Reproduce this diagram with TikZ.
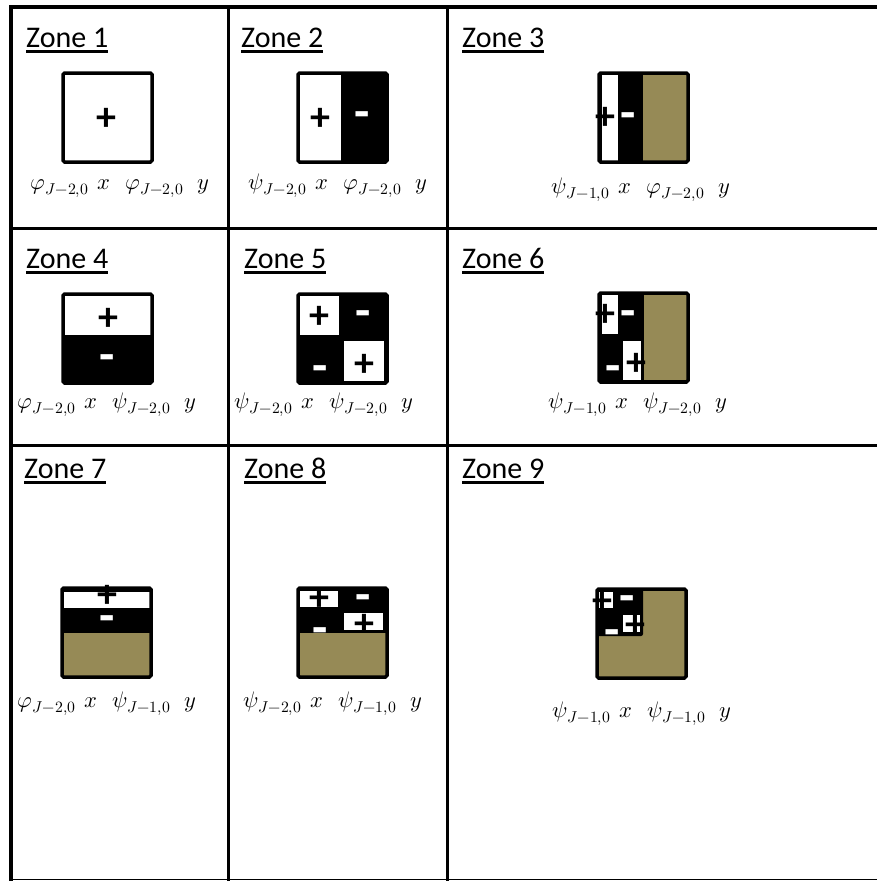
\documentclass[tikz,border=0pt]{standalone}
\usepackage{fontspec}
\usepackage{unicode-math}
\setmainfont{Carlito}
\setmathfont{Latin Modern Math}
\definecolor{kaki}{RGB}{150,138,86}
\newcommand{\souligne}[1]{\setbox0=\hbox{#1}\rlap{\rule[-5.5pt]{\wd0}{2.6pt}}\box0}
\tikzset{
  zonetitle/.style={anchor=base west, inner sep=0pt, font=\fontsize{30}{34}\selectfont},
  formule/.style={anchor=base, inner sep=0pt, font=\fontsize{22.5}{26}\selectfont},
  cadre/.style={draw=black, line width=3.5pt, rounded corners=1.5pt},
  grille/.style={line width=3.6pt, line cap=rect},
  signplus/.style={anchor=base, inner sep=0pt, text=black, yshift=-13pt,
                   font=\fontsize{40}{40}\selectfont\bfseries},
  signmoins/.style={anchor=base, inner sep=0pt, text=white, yshift=-17pt,
                    font=\fontsize{50}{50}\selectfont\bfseries},
}
\begin{document}
\begin{tikzpicture}[x=1pt, y=-1pt]
  \useasboundingbox (0,0) rectangle (877,881);
  \draw[grille] (11,7) -- (877,7);
  \draw[grille] (11,228.5) -- (877,228.5);
  \draw[grille] (11,445.5) -- (877,445.5);
  \draw[line width=1.5pt] (11,879.5) -- (877,879.5);
  \draw[grille] (11,7) -- (11,880);
  \draw[grille] (228.5,7) -- (228.5,880);
  \draw[grille] (447.5,7) -- (447.5,880);

  \node[zonetitle] (t1) at (26,47) {\souligne{Zone 1}};
  \node[zonetitle] (t2) at (241,47) {\souligne{Zone 2}};
  \node[zonetitle] (t3) at (462,47) {\souligne{Zone 3}};
  \node[zonetitle] (t4) at (26,268) {\souligne{Zone 4}};
  \node[zonetitle] (t5) at (244,268) {\souligne{Zone 5}};
  \node[zonetitle] (t6) at (462,268) {\souligne{Zone 6}};
  \node[zonetitle] (t7) at (24,478) {\souligne{Zone 7}};
  \node[zonetitle] (t8) at (244,478) {\souligne{Zone 8}};
  \node[zonetitle] (t9) at (462,478) {\souligne{Zone 9}};

  \begin{scope}[shift={(63,73)}]
    \fill[white] (0,0) rectangle (89,89);
    \draw[cadre] (0,0) rectangle (89,89);
  \end{scope}
  \begin{scope}[shift={(298,73)}]
    \fill[black] (0,0) rectangle (89,89);
    \fill[white] (0,0) rectangle (43,89);
    \draw[cadre] (0,0) rectangle (89,89);
  \end{scope}
  \begin{scope}[shift={(599,73)}]
    \fill[black] (0,0) rectangle (89,89);
    \fill[white] (2.5,0) rectangle (19,89);
    \fill[kaki] (44,0) rectangle (87.5,89);
    \draw[cadre] (0,0) rectangle (89,89);
  \end{scope}
  \begin{scope}[shift={(63,294)}]
    \fill[black] (0,0) rectangle (89,89);
    \fill[white] (0,0) rectangle (89,41);
    \draw[cadre] (0,0) rectangle (89,89);
  \end{scope}
  \begin{scope}[shift={(298,294)}]
    \fill[black] (0,0) rectangle (89,89);
    \fill[white] (0,0) rectangle (41,41);
    \fill[white] (46,47) rectangle (86,87);
    \draw[cadre] (0,0) rectangle (89,89);
  \end{scope}
  \begin{scope}[shift={(599,293)}]
    \fill[black] (0,0) rectangle (89,89);
    \fill[white] (3,2) rectangle (19,41);
    \fill[white] (24,48) rectangle (42,87);
    \fill[kaki] (45,2) rectangle (87.5,87);
    \draw[cadre] (0,0) rectangle (89,89);
  \end{scope}
  \begin{scope}[shift={(62,588)}]
    \fill[black] (0,0) rectangle (89,89);
    \fill[white] (1.5,3.5) rectangle (87.5,20);
    \fill[kaki] (1.5,45) rectangle (87.5,87.5);
    \draw[cadre] (0,0) rectangle (89,89);
  \end{scope}
  \begin{scope}[shift={(298,588)}]
    \fill[black] (0,0) rectangle (89,89);
    \fill[white] (2,3) rectangle (40,19);
    \fill[white] (46,25) rectangle (85,42);
    \fill[kaki] (1.5,45) rectangle (87.5,87.5);
    \draw[cadre] (0,0) rectangle (89,89);
  \end{scope}
  \begin{scope}[shift={(597,589)}]
    \fill[kaki] (0,0) rectangle (89,89);
    \fill[black, rounded corners=2pt] (0,0) rectangle (46,47);
    \fill[white] (2,3) rectangle (16,19);
    \fill[white] (26,26) rectangle (43,43);
    \draw[cadre] (0,0) rectangle (89,89);
  \end{scope}

  \node[signplus] (s1a) at (106.5,117.5) {+};
  \node[signplus] (s2a) at (320,117.5) {+};
  \node[signmoins] (s2b) at (362,111.5) {-};
  \node[signplus] (s3a) at (605,116) {+};
  \node[signmoins] (s3b) at (628,112) {-};
  \node[signplus] (s4a) at (108,317) {+};
  \node[signmoins] (s4b) at (107.5,354.5) {-};
  \node[signplus] (s5a) at (319,315) {+};
  \node[signmoins] (s5b) at (363,310.5) {-};
  \node[signmoins] (s5c) at (320,365.5) {-};
  \node[signplus] (s5d) at (364,363.5) {+};
  \node[signplus] (s6a) at (605.5,313.5) {+};
  \node[signmoins] (s6b) at (628.5,310) {-};
  \node[signmoins] (s6c) at (613.5,365.5) {-};
  \node[signplus] (s6d) at (636.5,362) {+};
  \node[signplus] (s7a) at (107,594) {+};
  \node[signmoins] (s7b) at (107.5,615) {-};
  \node[signplus] (s8a) at (319,597) {+};
  \node[signmoins] (s8b) at (363.5,594.5) {-};
  \node[signmoins] (s8c) at (320,627.5) {-};
  \node[signplus] (s8d) at (364,623) {+};
  \node[signplus] (s9a) at (602.5,600) {+};
  \node[signmoins] (s9b) at (627.5,595) {-};
  \node[signmoins] (s9c) at (612.5,629.5) {-};
  \node[signplus] (s9d) at (635,624) {+};

  \node[formule] (f1) at (120,189) {$\varphi_{J-2,0}\hspace{9pt}x\hspace{15pt}\varphi_{J-2,0}\hspace{14pt}y$};
  \node[formule] (f2) at (338,189) {$\psi_{J-2,0}\hspace{9pt}x\hspace{15pt}\varphi_{J-2,0}\hspace{14pt}y$};
  \node[formule] (f3) at (641,193) {$\psi_{J-1,0}\hspace{9pt}x\hspace{15pt}\varphi_{J-2,0}\hspace{14pt}y$};
  \node[formule] (f4) at (107,408) {$\varphi_{J-2,0}\hspace{9pt}x\hspace{15pt}\psi_{J-2,0}\hspace{14pt}y$};
  \node[formule] (f5) at (324,408) {$\psi_{J-2,0}\hspace{9pt}x\hspace{15pt}\psi_{J-2,0}\hspace{14pt}y$};
  \node[formule] (f6) at (638,408) {$\psi_{J-1,0}\hspace{9pt}x\hspace{15pt}\psi_{J-2,0}\hspace{14pt}y$};
  \node[formule] (f7) at (107,707) {$\varphi_{J-2,0}\hspace{9pt}x\hspace{15pt}\psi_{J-1,0}\hspace{14pt}y$};
  \node[formule] (f8) at (333,707) {$\psi_{J-2,0}\hspace{9pt}x\hspace{15pt}\psi_{J-1,0}\hspace{14pt}y$};
  \node[formule] (f9) at (642,717) {$\psi_{J-1,0}\hspace{9pt}x\hspace{15pt}\psi_{J-1,0}\hspace{14pt}y$};
\end{tikzpicture}
\end{document}
